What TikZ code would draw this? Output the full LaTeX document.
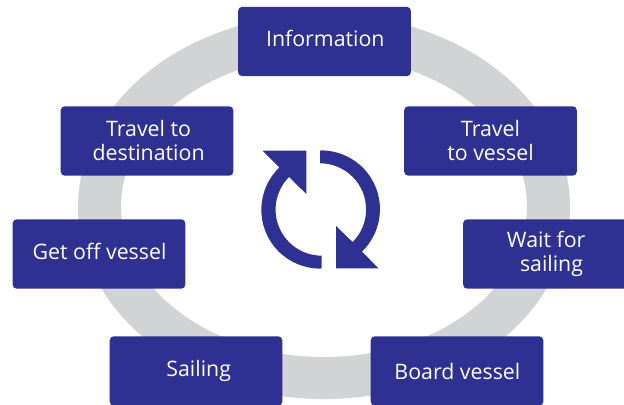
\documentclass[tikz,border=0pt]{standalone}
\usepackage{fontspec}
\setmainfont{Open Sans}
\definecolor{boxblue}{HTML}{2E3192}
\definecolor{ringgray}{HTML}{D1D3D4}
\tikzset{
  px/.style={x=0.75pt,y=-0.75pt},
  stagebox/.style={fill=boxblue,rounded corners=3pt,minimum width=129.5pt,minimum height=52pt,inner sep=0pt},
  stagetext/.style={inner sep=0pt,text=white,align=center,font=\fontsize{16}{18}\selectfont},
}
\begin{document}
\begin{tikzpicture}[px]
\useasboundingbox (0,0) rectangle (624,404);
\clip (0,0) rectangle (624,404);
\fill[ringgray,even odd rule] (324,206.5) ellipse [x radius=184.5pt,y radius=144.4pt] (324,206.5) ellipse [x radius=152.2pt,y radius=112.9pt];
\node[stagebox,label={[stagetext,name=infot,xshift=0.6pt,yshift=2.2pt]center:Information}] (info) at (324.5,41.5) {};
\node[stagebox,label={[stagetext,name=destt,xshift=1.2pt,yshift=0.7pt]center:{Travel to\\destination}}] (dest) at (147,141) {};
\node[stagebox,label={[stagetext,name=vesselt,yshift=0.7pt]center:{Travel\\to vessel}}] (vessel) at (490.5,141) {};
\node[stagebox,label={[stagetext,name=offt,xshift=0.4pt,yshift=2.2pt]center:Get off vessel}] (off) at (99,254) {};
\node[stagebox,label={[stagetext,name=waitt,xshift=-2.5pt]center:{Wait for\\ \hspace*{8pt}sailing}}] (wait) at (549.5,254) {};
\node[stagebox,label={[stagetext,name=sailt,xshift=2pt]center:Sailing}] (sail) at (196,371) {};
\node[stagebox,label={[stagetext,name=boardt,xshift=0.3pt]center:Board vessel}] (board) at (457,371) {};
\fill[boxblue] (320,150.7) -- (320,163.3) arc[start angle=90,end angle=-45,radius=34.6pt] -- (336,226) -- (336,268.3) -- (378.3,268.3) -- (362,251.5) arc[start angle=-46,end angle=90,radius=44.1pt] -- cycle;
\fill[boxblue] (321.7,268.3) -- (321.7,255.7) arc[start angle=-90,end angle=-225,radius=34.6pt] -- (306.3,194) -- (306.3,150.7) -- (262.7,150.7) -- (279.3,167.5) arc[start angle=134,end angle=270,radius=44.1pt] -- cycle;
\end{tikzpicture}
\end{document}
